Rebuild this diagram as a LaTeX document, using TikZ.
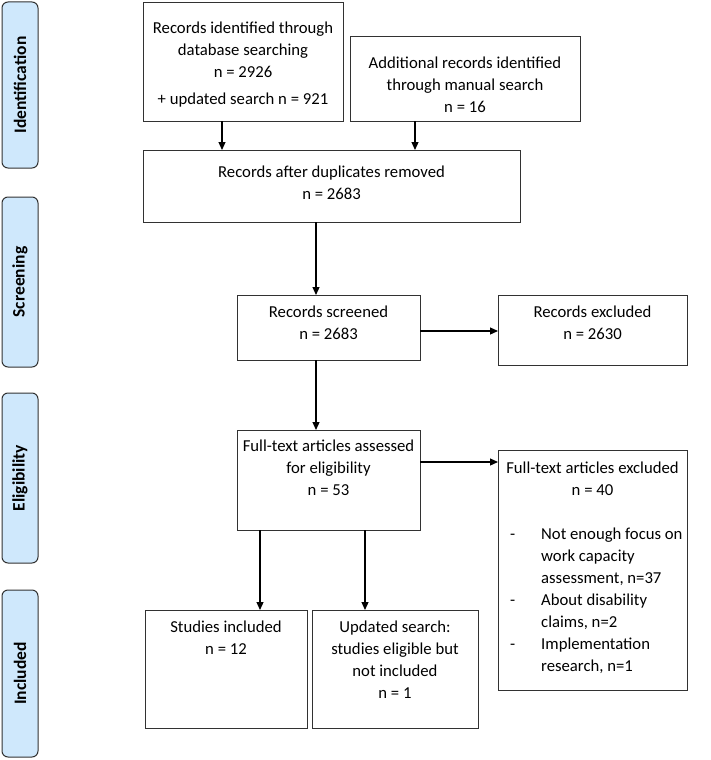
\documentclass[tikz,border=0pt]{standalone}
\usepackage{fontspec}
\setmainfont{Carlito}
\usetikzlibrary{arrows.meta}
\definecolor{phasefill}{RGB}{207,232,252}
\definecolor{edge}{RGB}{50,50,50}
\begin{document}
\begin{tikzpicture}[x=1pt,y=-1pt,
  box/.style={draw=edge, line width=1pt, inner sep=0pt, outer sep=0pt, anchor=north west},
  txt/.style={font=\fontsize{16.7}{22}\selectfont, align=center, inner sep=0pt, anchor=north},
  phase/.style={draw=edge, fill=phasefill, line width=1pt, rounded corners=6pt, rotate=90,
     minimum height=36pt, inner sep=0pt, font=\fontsize{17.5}{20}\selectfont\bfseries},
  arr/.style={line width=1.2pt, -{Triangle[length=8pt,width=7pt]}}]
\useasboundingbox (0,0) rectangle (710,760);
% phase labels
\node[phase, minimum width=166pt] (pid) at (20,85) {Identification};
\node[phase, minimum width=170pt] (psc) at (20,282) {Screening};
\node[phase, minimum width=170pt] (pel) at (20,478) {Eligibility};
\node[phase, minimum width=167pt] (pin) at (20,673.5) {Included};
% boxes
\node[box, minimum width=200pt, minimum height=118pt] (b1) at (143,3) {};
\node[box, minimum width=230pt, minimum height=84pt] (b2) at (350,37) {};
\node[box, minimum width=377pt, minimum height=72pt] (b3) at (143,150) {};
\node[box, minimum width=183pt, minimum height=65pt] (b4) at (237,295) {};
\node[box, minimum width=189pt, minimum height=70pt] (b5) at (498,295) {};
\node[box, minimum width=189pt, minimum height=240pt] (b7) at (498,450) {};
\node[box, minimum width=183pt, minimum height=100pt] (b6) at (237,430) {};
\node[box, minimum width=162pt, minimum height=118pt] (b8) at (145,610) {};
\node[box, minimum width=166pt, minimum height=118pt] (b9) at (312,610) {};
% texts
\node[txt] (t1) at ([yshift=-19pt]b1.north) {Records identified through\\database searching\\n = 2926\\[5pt]+ updated search n = 921};
\node[txt] (t2) at ([yshift=-20pt]b2.north) {Additional records identified\\through manual search\\n = 16};
\node[txt] (t3) at ([yshift=-16pt]b3.north) {Records after duplicates removed\\n = 2683};
\node[txt] (t4) at ([yshift=-11pt]b4.north) {Records screened\\n = 2683};
\node[txt] (t5) at ([yshift=-11pt]b5.north) {Records excluded\\n = 2630};
\node[txt] (t6) at ([yshift=-10pt]b6.north) {Full-text articles assessed\\for eligibility\\n = 53};
\node[txt] (t7) at ([yshift=-12pt]b7.north) {Full-text articles excluded\\n = 40};
\node[txt, anchor=north west, align=left] (t7b) at ([xshift=12pt,yshift=-73.5pt]b7.north west)
  {\begin{tabular}{@{}p{31pt}@{}l@{}}
   - & Not enough focus on\\
     & work capacity\\
     & assessment, n=37\\
   - & About disability\\
     & claims, n=2\\
   - & Implementation\\
     & research, n=1
   \end{tabular}};
\node[txt] (t8) at ([yshift=-11pt]b8.north) {Studies included\\n = 12};
\node[txt] (t9) at ([yshift=-11pt]b9.north) {Updated search:\\studies eligible but\\not included\\n = 1};
% arrows
\draw[arr] (b1.south -| 222,0) -- (b3.north -| 222,0);
\draw[arr] (b2.south -| 415,0) -- (b3.north -| 415,0);
\draw[arr] (b3.south -| 316,0) -- (b4.north -| 316,0);
\draw[arr] (b4.east |- 0,331) -- (b5.west |- 0,331);
\draw[arr] (b4.south -| 316,0) -- (b6.north -| 316,0);
\draw[arr] (b6.east |- 0,462) -- (b7.west |- 0,462);
\draw[arr] (b6.south -| 260,0) -- (b8.north -| 260,0);
\draw[arr] (b6.south -| 365,0) -- (b9.north -| 365,0);
\end{tikzpicture}
\end{document}
